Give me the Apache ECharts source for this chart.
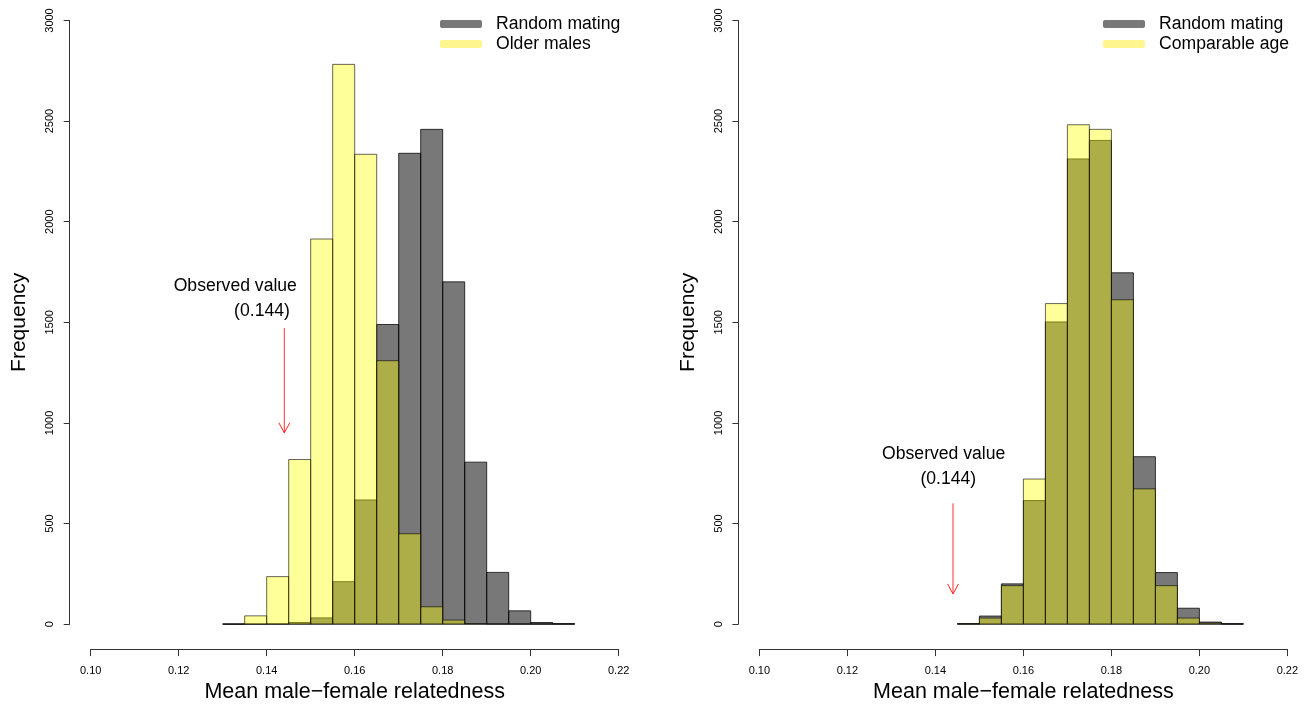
<!DOCTYPE html>
<html>
<head>
<meta charset="utf-8">
<script src="https://cdn.jsdelivr.net/npm/echarts@6/dist/echarts.min.js"></script>
<style>
html,body{margin:0;padding:0;background:#fff;}
#chart{width:1304px;height:708px;}
</style>
</head>
<body>
<div id="chart"></div>
<script>
// Histogram bin breaks (mean male-female relatedness)
const breaks = [0.130, 0.135, 0.140, 0.145, 0.150, 0.155, 0.160, 0.165, 0.170, 0.175, 0.180, 0.185, 0.190, 0.195, 0.200, 0.205, 0.210];

// Left panel counts
const leftRandom = [0, 0, 1, 8, 31, 211, 617, 1489, 2340, 2459, 1701, 805, 257, 66, 8, 2];
const leftOlder  = [0, 41, 236, 818, 1914, 2782, 2335, 1309, 449, 86, 20, 2, 0, 0, 0, 0];

// Right panel counts (null = bin not drawn)
const rightRandom     = [null, null, null, 2, 40, 200, 614, 1502, 2312, 2404, 1746, 832, 256, 79, 10, 2];
const rightComparable = [null, null, null, 1, 30, 191, 721, 1593, 2482, 2459, 1612, 672, 191, 30, 5, 0];

const xTicks = [0.10, 0.12, 0.14, 0.16, 0.18, 0.20, 0.22];
const yTicks = [0, 500, 1000, 1500, 2000, 2500, 3000];
const observedValue = 0.144;

const FONT = "'Liberation Sans', Arial, Helvetica, sans-serif";
const GRAY = 'rgba(0,0,0,0.53)';
const YELLOW = 'rgba(255,255,0,0.4)';

function binData(counts) {
  const out = [];
  for (let i = 0; i < counts.length; i++) {
    if (counts[i] === null) continue;
    out.push([breaks[i], breaks[i + 1], counts[i]]);
  }
  return out;
}

function histRender(fill, stroke) {
  return function (params, api) {
    const x0 = api.value(0), x1 = api.value(1), v = api.value(2);
    const p0 = api.coord([x0, v]);
    const p1 = api.coord([x1, 0]);
    return {
      type: 'rect',
      shape: { x: p0[0], y: p0[1], width: p1[0] - p0[0], height: p1[1] - p0[1] },
      style: { fill: fill, stroke: stroke, lineWidth: 1 }
    };
  };
}

function annoRender(arrowTop, arrowTip, t1, t2) {
  return function (params, api) {
    const top = api.coord([observedValue, arrowTop]);
    const tip = api.coord([observedValue, arrowTip]);
    const a1 = api.coord(t1);
    const a2 = api.coord(t2);
    return {
      type: 'group',
      children: [
        { type: 'line', shape: { x1: tip[0], y1: top[1], x2: tip[0], y2: tip[1] },
          style: { stroke: '#ff3030', lineWidth: 1 } },
        { type: 'polyline', shape: { points: [[tip[0] - 5.5, tip[1] - 10], [tip[0], tip[1]], [tip[0] + 5.5, tip[1] - 10]] },
          style: { stroke: '#ff2020', lineWidth: 1, fill: null } },
        { type: 'text', x: a1[0], y: a1[1],
          style: { text: 'Observed value', fontSize: 17.6, fontFamily: FONT, fill: '#000', align: 'center', verticalAlign: 'middle' } },
        { type: 'text', x: a2[0], y: a2[1],
          style: { text: '(' + observedValue.toFixed(3) + ')', fontSize: 17.6, fontFamily: FONT, fill: '#000', align: 'center', verticalAlign: 'middle' } }
      ]
    };
  };
}

function xAxis(gridIndex) {
  return {
    type: 'value', gridIndex: gridIndex, min: xTicks[0], max: xTicks[xTicks.length - 1], interval: 0.02,
    offset: 25,
    axisLine: { show: true, onZero: false, lineStyle: { color: '#333', width: 1 } },
    axisTick: { show: true, length: 7, lineStyle: { color: '#333' } },
    axisLabel: { fontSize: 11, fontFamily: FONT, color: '#000', margin: 16, formatter: v => v.toFixed(2) },
    splitLine: { show: false },
    name: 'Mean male\u2212female relatedness', nameLocation: 'middle', nameGap: 31,
    nameTextStyle: { fontSize: 21.5, fontFamily: FONT, color: '#000' }
  };
}

function yAxis(gridIndex) {
  return {
    type: 'value', gridIndex: gridIndex, min: yTicks[0], max: yTicks[yTicks.length - 1], interval: 500,
    offset: 21,
    axisLine: { show: true, onZero: false, lineStyle: { color: '#333', width: 1 } },
    axisTick: { show: true, length: 6, lineStyle: { color: '#333' } },
    axisLabel: { fontSize: 11, fontFamily: FONT, color: '#000', margin: 14, rotate: 90, formatter: v => String(v) },
    splitLine: { show: false },
    name: 'Frequency', nameLocation: 'middle', nameGap: 40, nameRotate: 90,
    nameTextStyle: { fontSize: 21, fontFamily: FONT, color: '#000' }
  };
}

function legend(left, names) {
  return {
    left: left, top: 14, orient: 'vertical', padding: 0, itemGap: 0,
    icon: 'roundRect', itemWidth: 42, itemHeight: 8,
    textStyle: { fontSize: 17.6, fontFamily: FONT, color: '#000', lineHeight: 20, padding: [0, 0, 0, 9] },
    selectedMode: false,
    data: [
      { name: names[0], itemStyle: { color: '#787878', borderWidth: 0 } },
      { name: names[1], itemStyle: { color: '#fff68f', borderWidth: 0 } }
    ]
  };
}

const chart = echarts.init(document.getElementById('chart'), null, { renderer: 'canvas' });
chart.setOption({
  animation: false,
  backgroundColor: '#fff',
  grid: [
    { left: 90.7, top: 20.5, width: 528, height: 605.5 },
    { left: 759.4, top: 20.5, width: 528, height: 605.5 }
  ],
  xAxis: [xAxis(0), xAxis(1)],
  yAxis: [yAxis(0), yAxis(1)],
  legend: [
    legend(440, ['Random mating', 'Older males']),
    legend(1103, ['Random mating', 'Comparable age'])
  ],
  series: [
    { name: 'Random mating', type: 'custom', xAxisIndex: 0, yAxisIndex: 0, itemStyle: { color: '#787878' },
      encode: { x: [0, 1], y: 2 }, data: binData(leftRandom), renderItem: histRender(GRAY, 'rgba(0,0,0,0.75)') },
    { name: 'Older males', type: 'custom', xAxisIndex: 0, yAxisIndex: 0, itemStyle: { color: '#fff68f' },
      encode: { x: [0, 1], y: 2 }, data: binData(leftOlder), renderItem: histRender(YELLOW, 'rgba(0,0,0,0.6)') },
    { name: 'Random mating', type: 'custom', xAxisIndex: 1, yAxisIndex: 1, itemStyle: { color: '#787878' },
      encode: { x: [0, 1], y: 2 }, data: binData(rightRandom), renderItem: histRender(GRAY, 'rgba(0,0,0,0.75)') },
    { name: 'Comparable age', type: 'custom', xAxisIndex: 1, yAxisIndex: 1, itemStyle: { color: '#fff68f' },
      encode: { x: [0, 1], y: 2 }, data: binData(rightComparable), renderItem: histRender(YELLOW, 'rgba(0,0,0,0.6)') },
    { name: 'anno-left', type: 'custom', xAxisIndex: 0, yAxisIndex: 0, silent: true,
      encode: { x: 0, y: 1 }, data: [[observedValue, 1471]],
      renderItem: annoRender(1471, 951, [0.13286, 1681], [0.13893, 1554]) },
    { name: 'anno-right', type: 'custom', xAxisIndex: 1, yAxisIndex: 1, silent: true,
      encode: { x: 0, y: 1 }, data: [[observedValue, 600]],
      renderItem: annoRender(600, 150, [0.14189, 847], [0.14293, 720]) }
  ]
});
</script>
</body>
</html>
